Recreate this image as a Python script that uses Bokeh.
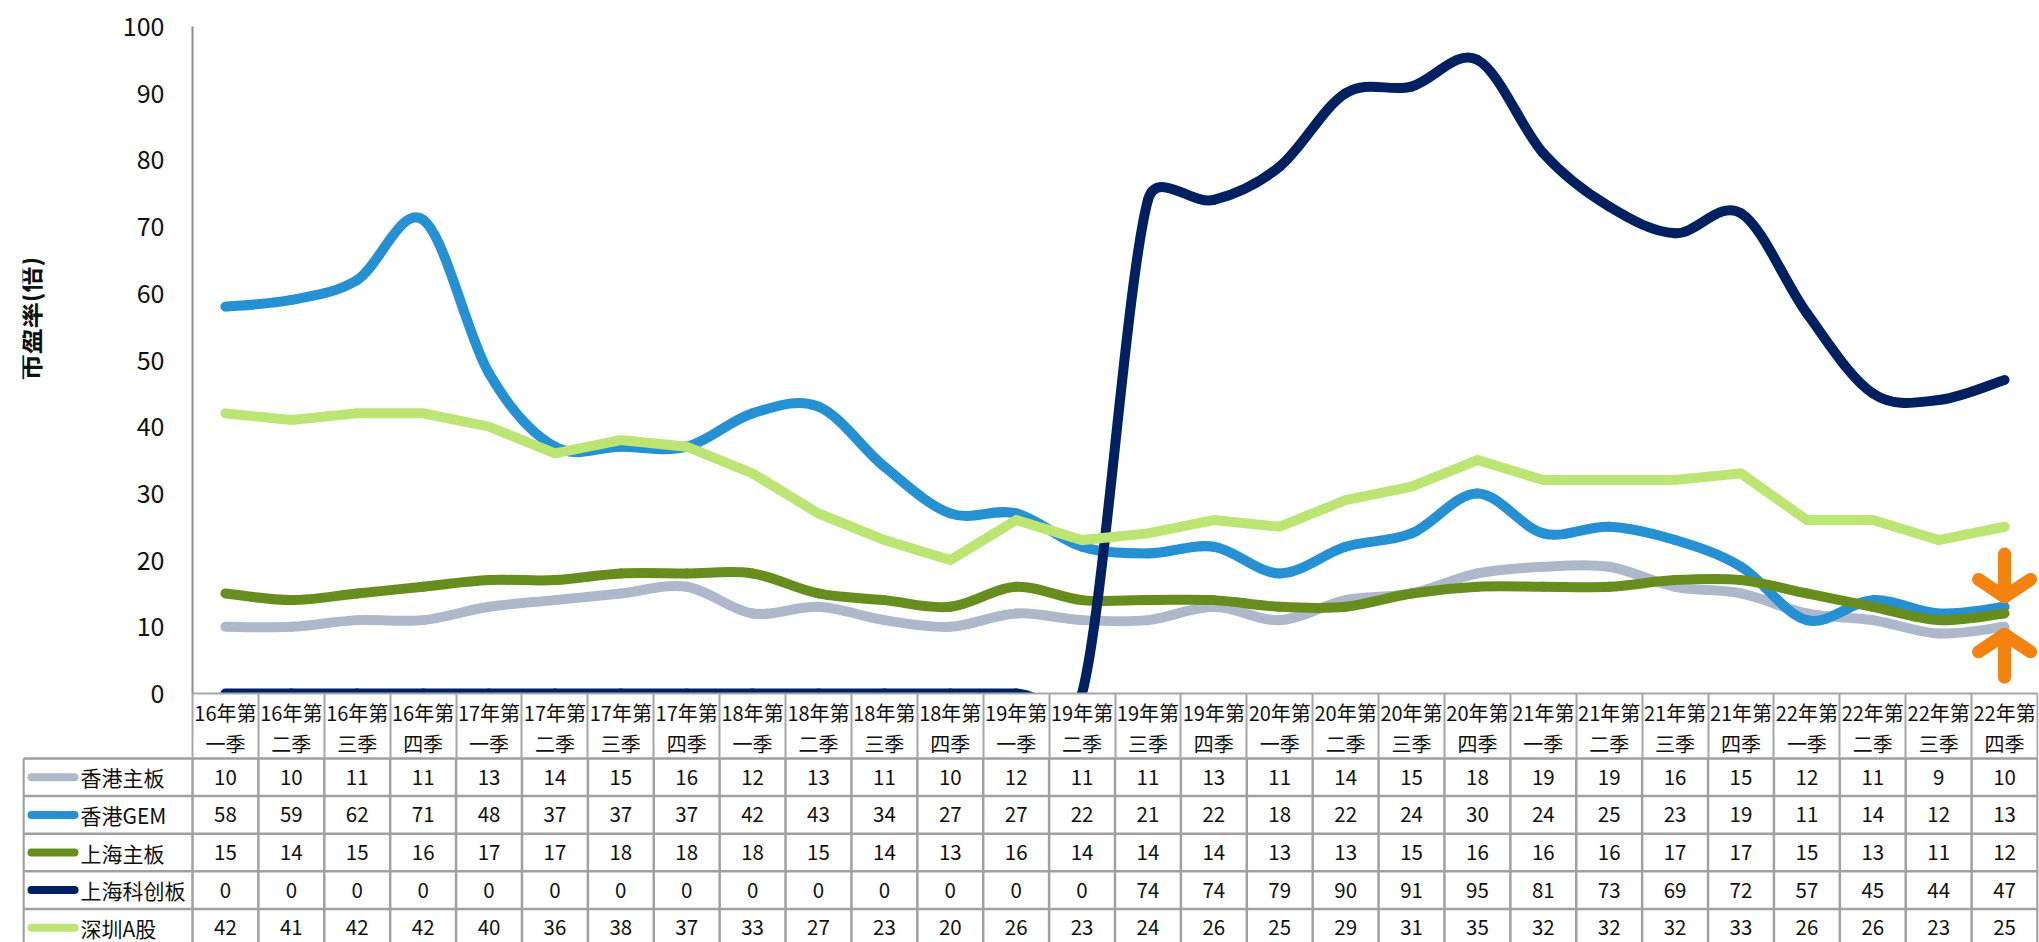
import math
from bokeh.plotting import figure
from bokeh.models import Range1d, FixedTicker, Label, ColumnDataSource
from bokeh.embed import file_html
from bokeh.resources import INLINE
from bokeh.core.properties import value

# ---------------- data ----------------
quarters = ["16年第\n一季", "16年第\n二季", "16年第\n三季", "16年第\n四季",
            "17年第\n一季", "17年第\n二季", "17年第\n三季", "17年第\n四季",
            "18年第\n一季", "18年第\n二季", "18年第\n三季", "18年第\n四季",
            "19年第\n一季", "19年第\n二季", "19年第\n三季", "19年第\n四季",
            "20年第\n一季", "20年第\n二季", "20年第\n三季", "20年第\n四季",
            "21年第\n一季", "21年第\n二季", "21年第\n三季", "21年第\n四季",
            "22年第\n一季", "22年第\n二季", "22年第\n三季", "22年第\n四季"]
series_names = ["香港主板", "香港GEM", "上海主板", "上海科创板", "深圳A股"]
hk_main = [10, 10, 11, 11, 13, 14, 15, 16, 12, 13, 11, 10, 12, 11,
           11, 13, 11, 14, 15, 18, 19, 19, 16, 15, 12, 11, 9, 10]
hk_gem = [58, 59, 62, 71, 48, 37, 37, 37, 42, 43, 34, 27, 27, 22,
          21, 22, 18, 22, 24, 30, 24, 25, 23, 19, 11, 14, 12, 13]
sh_main = [15, 14, 15, 16, 17, 17, 18, 18, 18, 15, 14, 13, 16, 14,
           14, 14, 13, 13, 15, 16, 16, 16, 17, 17, 15, 13, 11, 12]
sh_star = [0, 0, 0, 0, 0, 0, 0, 0, 0, 0, 0, 0, 0, 0,
           74, 74, 79, 90, 91, 95, 81, 73, 69, 72, 57, 45, 44, 47]
sz_a = [42, 41, 42, 42, 40, 36, 38, 37, 33, 27, 23, 20, 26, 23,
        24, 26, 25, 29, 31, 35, 32, 32, 32, 33, 26, 26, 23, 25]
y_ticks = [0, 10, 20, 30, 40, 50, 60, 70, 80, 90, 100]
y_title = "市盈率(倍)"

series = [hk_main, hk_gem, sh_main, sh_star, sz_a]
colors = ["#ADB9CA", "#2591D2", "#678D1F", "#002060", "#BDE574"]
smooth = [True, True, True, True, False]

FONT = "Noto Sans CJK SC"
TXT = "#111111"
GRID = "#A0A0A0"
N = len(quarters)
xs = list(range(N))

# ---------------- layout helpers (page pixels -> data units) ----------------
W = 1845 / N          # px per category
SY = 667 / 100.0      # px per PE unit
X_AXIS_PX = 192
Y_ZERO_PX = 693


def xu(px):
    return -0.5 + (px - X_AXIS_PX) / W


def yu(py):
    return (Y_ZERO_PX - py) / SY


p = figure(width=2039, height=942,
           x_range=Range1d(xu(22), xu(2038)), y_range=Range1d(yu(942), yu(0)),
           output_backend="svg", toolbar_location=None,
           min_border_left=22, min_border_right=1, min_border_top=0,
           min_border_bottom=0)
p.xgrid.visible = False
p.ygrid.visible = False
p.outline_line_color = None


def excel_bezier(xv, yv):
    px = [(x * W, y * SY) for x, y in zip(xv, yv)]
    n = len(px)
    out = {k: [] for k in ["x0", "y0", "x1", "y1", "cx0", "cy0", "cx1", "cy1"]}

    def d(a, b):
        return math.hypot(a[0] - b[0], a[1] - b[1])

    for i in range(n - 1):
        p0 = px[i - 1] if i > 0 else px[i]
        p1 = px[i]
        p2 = px[i + 1]
        p3 = px[i + 2] if i + 2 < n else px[i + 1]
        d12, d02, d13 = d(p1, p2), d(p0, p2), d(p1, p3)
        f1 = 1 / 6 if d02 / 6 < d12 / 2 else (d12 / 2) / d02
        f2 = 1 / 6 if d13 / 6 < d12 / 2 else (d12 / 2) / d13
        c1 = (p1[0] + (p2[0] - p0[0]) * f1, p1[1] + (p2[1] - p0[1]) * f1)
        c2 = (p2[0] - (p3[0] - p1[0]) * f2, p2[1] - (p3[1] - p1[1]) * f2)
        out["x0"].append(p1[0] / W); out["y0"].append(p1[1] / SY)
        out["x1"].append(p2[0] / W); out["y1"].append(p2[1] / SY)
        out["cx0"].append(c1[0] / W); out["cy0"].append(c1[1] / SY)
        out["cx1"].append(c2[0] / W); out["cy1"].append(c2[1] / SY)
    return out


for vals, col, sm in zip(series, colors, smooth):
    if sm:
        src = ColumnDataSource(excel_bezier(xs, vals))
        p.bezier(x0="x0", y0="y0", x1="x1", y1="y1", cx0="cx0", cy0="cy0",
                 cx1="cx1", cy1="cy1", source=src, line_color=col,
                 line_width=10, line_cap="round")
    else:
        p.line(xs, vals, line_color=col, line_width=10, line_cap="round",
               line_join="miter")

# orange convergence arrows at the last quarter
last = [s[-1] for s in (hk_main, hk_gem, sh_main)]
xl = xs[-1]
top_tip = max(last) + 1.5
bot_tip = min(last) - 1.15
shaft = 6.4
wy = 2.6
wx = 26 / W
ax0 = [xl, xl - wx, xl + wx, xl, xl - wx, xl + wx]
ay0 = [top_tip + shaft, top_tip + wy, top_tip + wy,
       bot_tip - shaft, bot_tip - wy, bot_tip - wy]
p.segment(ax0, ay0, [xl] * 6, [top_tip] * 3 + [bot_tip] * 3,
          line_color="#F3820F", line_width=13, line_cap="round")

# plot-area clip below the zero line (header band)
p.quad(left=[-0.5], right=[N - 0.5], top=[0], bottom=[yu(758)],
       fill_color="white", line_color=None)

# ---------------- y axis ----------------
ya = p.yaxis[0]
ya.fixed_location = -0.5
ya.bounds = (0, 100)
ya.ticker = FixedTicker(ticks=y_ticks)
ya.major_tick_out = 0
ya.major_tick_in = 0
ya.minor_tick_line_color = None
ya.axis_line_color = "#8C8C8C"
ya.axis_line_width = 2
ya.major_label_standoff = 28
ya.major_label_text_font = FONT
ya.major_label_text_font_size = "25px"
ya.major_label_text_color = TXT

# ---------------- x axis = table header ----------------
xa = p.xaxis[0]
xa.fixed_location = 0
xa.bounds = (-0.5, N - 0.5)
xa.ticker = FixedTicker(ticks=xs, minor_ticks=[i - 0.5 for i in range(N + 1)])
xa.major_label_overrides = {i: q for i, q in enumerate(quarters)}
xa.major_tick_out = 0
xa.major_tick_in = 0
xa.minor_tick_out = 65
xa.minor_tick_in = 0
xa.minor_tick_line_color = "#A6A6A6"
xa.minor_tick_line_width = 2
xa.axis_line_color = "#A6A6A6"
xa.axis_line_width = 2
xa.major_label_standoff = -61
xa.major_label_text_font = FONT
xa.major_label_text_font_size = "20px"
xa.major_label_text_line_height = 1.1
xa.major_label_text_color = TXT

p.add_layout(Label(x=xu(28), y=yu(318), text=y_title, angle=math.pi / 2,
                   text_align="center", text_baseline="middle",
                   text_font=FONT, text_font_size="26px",
                   text_font_style="bold", text_color=TXT))

# ---------------- table body ----------------
RH = 37.6
TOP = 758
nrows = len(series)
leg_left = xu(23)
hy = [yu(TOP + r * RH) for r in range(nrows + 1)]
p.segment([leg_left] * len(hy), hy, [N - 0.5] * len(hy), hy,
          line_color=GRID, line_width=2.5)
vx = [leg_left] + [i - 0.5 for i in range(N + 1)]
p.segment(vx, [hy[0]] * len(vx), vx, [hy[-1]] * len(vx),
          line_color=GRID, line_width=2.5)

ry = [yu(TOP + (r + 0.5) * RH) for r in range(nrows)]
tx, ty, tt = [], [], []
for r, vals in enumerate(series):
    for i, v in enumerate(vals):
        tx.append(i)
        ty.append(ry[r])
        tt.append(str(v))
p.text(tx, ty, text=tt, text_align="center", text_baseline="middle",
       text_font=value(FONT), text_font_size="20.5px", text_color=TXT)

p.segment([xu(31)] * nrows, ry, [xu(74)] * nrows, ry, line_color=colors,
          line_width=8, line_cap="round")
p.text([xu(80)] * nrows, ry, text=series_names, text_align="left",
       text_baseline="middle", text_font=value(FONT),
       text_font_size="21px", text_color=TXT)

open("out.html", "w").write(file_html(p, INLINE))
